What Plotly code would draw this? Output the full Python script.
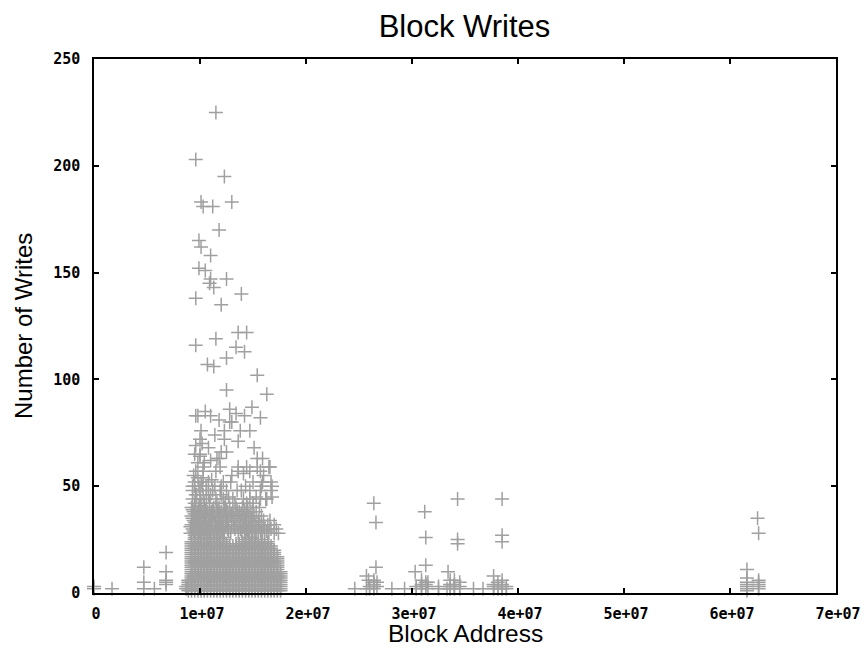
import plotly.graph_objects as go

# ---------------- data (block address in millions, number of writes) ----------------
# scattered points
sparse_addr_m = [
    11.5, 9.6, 12.3, 10.1, 10.3, 11.2, 13.0, 11.8, 9.9, 10.1, 11.0, 9.9, 10.5, 11.0, 12.5,
    10.9, 11.3, 13.9, 9.6, 12.0, 13.6, 14.4, 9.6, 11.5, 13.4, 14.2, 12.5, 10.7, 11.3, 15.4,
    12.5, 16.3, 14.9, 10.5, 12.8, 13.4, 9.6, 9.8, 11.0, 11.8, 12.8, 13.0, 14.2, 15.7, 10.1,
    11.4, 12.3, 13.8, 14.7, 10.0, 10.2, 12.3, 13.6, 9.6, 10.8, 12.0, 12.5, 15.1, 10.0, 11.6,
    11.8, 15.4, 15.9, 11.0, 10.3, 11.9, 13.6, 14.4, 15.4, 16.5, 16.6, 16.8, 16.8,
    9.8, 10.4, 9.5, 10.0,
]
sparse_writes = [
    225, 203, 195, 183, 181, 181, 183, 170, 165, 162, 158, 152, 151, 147, 147,
    145, 143, 140, 138, 135, 122, 122, 116, 119, 115, 113, 110, 107, 106, 102,
    95, 93, 87, 85, 86, 84, 83, 83, 83, 81, 80, 80, 83, 82, 76,
    74, 76, 76, 76, 72, 70, 72, 71, 69, 68, 66, 66, 68, 64, 63,
    63, 63, 63, 62, 59, 59, 59, 59, 59, 59, 59, 50, 45,
    61, 61, 65, 65,
]

# semi-dense band inside the main cluster
band_addr_m = [
    9.6, 10.3, 11.5, 13.6, 14.7, 15.7,
    9.5, 10.1, 10.8, 12.2, 12.9, 15.0, 15.9, 16.7,
    9.3, 10.0, 10.6, 11.2, 11.9, 12.5, 13.9, 14.7, 15.7, 16.7,
    9.3, 10.0, 10.6, 11.5, 12.2, 13.1, 14.1, 14.7, 15.7, 16.2,
    9.4, 9.8, 10.2, 9.6, 10.4, 9.9, 10.8, 9.5, 10.3, 11.1, 12.0, 12.7, 13.5, 14.3, 15.3,
    16.3, 15.8, 13.0, 14.1, 16.0,
    9.2, 9.6, 10.0, 10.4, 10.9, 11.3, 11.8, 12.3, 12.8, 13.4, 14.0, 14.5, 15.0, 15.6,
    9.4, 9.8, 10.2, 10.7, 11.1, 11.6, 12.0, 12.6, 13.1, 13.7, 14.2, 14.8, 15.3,
    9.2, 9.7, 10.1, 10.5, 11.0, 11.4, 11.9, 12.4, 12.9, 13.5, 14.0, 14.6, 15.1, 15.8,
    9.4, 9.9, 10.3, 10.8, 11.2, 11.7, 12.2, 12.7, 13.2, 13.8, 14.3, 14.9, 15.5, 16.0, 16.6,
    9.2, 9.6, 10.0, 10.5, 10.9, 11.4, 11.9, 12.4, 13.0, 13.5, 14.1, 14.6, 15.2, 15.8, 16.4, 17.0,
    9.3, 9.8, 10.2, 10.7, 11.1, 11.6, 12.1, 12.6, 13.3, 13.8, 14.4, 14.9, 15.5, 16.1, 16.7, 17.2,
    9.1, 9.5, 10.0, 10.4, 10.9, 11.3, 11.8, 12.3, 12.9, 13.6, 14.2, 14.7, 15.3, 15.9, 16.5, 17.0, 17.4,
    9.4, 9.9, 10.6, 11.4, 12.0, 12.7, 13.9, 14.5, 15.1, 15.7, 16.3,
    9.1, 9.7, 10.3, 11.0, 11.7, 12.2, 13.2, 14.0, 14.7, 15.3, 16.0,
    9.5, 10.1, 10.6, 11.5, 12.0, 12.5, 13.7, 14.4, 15.0, 15.6,
    9.3, 9.8, 10.4, 11.1, 11.8, 12.6, 13.3, 14.2, 14.8,
    9.5, 10.0, 10.6, 11.3, 12.2, 13.0, 13.9, 14.4,
    9.3, 9.9, 10.5, 11.2, 11.7, 12.5, 13.5, 14.2,
    9.5, 10.1, 10.9, 11.6, 12.4, 13.3, 14.4, 15.0,
    9.7, 10.3, 11.0, 12.0,
    9.3, 9.9, 10.6, 11.4,
]
band_writes = [
    57, 57, 57, 57, 57, 57,
    52, 52, 52, 52, 52, 52, 52, 52,
    48, 48, 48, 48, 48, 48, 48, 48, 48, 48,
    44, 44, 44, 44, 44, 44, 44, 44, 44, 44,
    55, 54, 50, 46, 42, 41, 46, 50, 54, 53, 50, 45, 48, 50, 45,
    44, 50, 55, 56, 55,
    40, 40, 40, 40, 40, 40, 40, 40, 40, 40, 40, 40, 40, 40,
    38, 38, 38, 38, 38, 38, 38, 38, 38, 38, 38, 38, 38,
    36, 36, 36, 36, 36, 36, 36, 36, 36, 36, 36, 36, 36, 36,
    34, 34, 34, 34, 34, 34, 34, 34, 34, 34, 34, 34, 34, 34, 34,
    32, 32, 32, 32, 32, 32, 32, 32, 32, 32, 32, 32, 32, 32, 32, 32,
    30, 30, 30, 30, 30, 30, 30, 30, 30, 30, 30, 30, 30, 30, 30, 30,
    28, 28, 28, 28, 28, 28, 28, 28, 28, 28, 28, 28, 28, 28, 28, 28, 28,
    29, 29, 29, 29, 29, 29, 29, 29, 29, 29, 29,
    31, 31, 31, 31, 31, 31, 31, 31, 31, 31, 31,
    33, 33, 33, 33, 33, 33, 33, 33, 33, 33,
    35, 35, 35, 35, 35, 35, 35, 35, 35,
    37, 37, 37, 37, 37, 37, 37, 37,
    39, 39, 39, 39, 39, 39, 39, 39,
    42, 42, 42, 42, 42, 42, 42, 42,
    46, 46, 46, 46,
    50, 50, 50, 50,
]

# solid part of the main cluster: every write count up to the column's top is present
dense_addr_m = [8.9, 9.2, 9.5, 9.8, 10.1, 10.4, 10.7, 11.0, 11.3, 11.6, 11.9, 12.2, 12.5, 12.8, 13.1,
                13.4, 13.7, 14.0, 14.3, 14.6, 14.9, 15.2, 15.5, 15.8, 16.1, 16.4, 16.7, 17.0, 17.3, 17.6]
dense_top = [6, 24, 28, 28, 28, 27, 27, 26, 27, 26, 25, 26, 23, 22, 22,
             23, 23, 24, 25, 26, 26, 25, 24, 25, 24, 24, 22, 20, 17, 10]
dense_levels = [1, 2, 3, 4, 5, 6, 7, 8, 9, 10, 11, 12, 13, 14, 15, 16, 17, 18, 19, 20,
                21, 22, 23, 24, 25, 26, 27, 28]

# isolated low groups
low_addr_m = [
    0.0, 0.0, 1.7, 4.7, 4.7, 4.7, 5.7, 6.8, 6.8, 6.8, 6.8, 6.8, 8.7, 8.7,
    24.6, 25.7, 25.7, 25.9, 26.4, 26.6, 26.6, 26.4, 26.4, 26.4, 26.4, 26.4, 26.7, 26.7, 26.0, 26.0, 28.1, 29.3,
    30.3, 30.4, 30.4, 30.9, 30.9, 30.9, 30.9, 31.2, 31.3, 31.3, 31.3, 31.3, 31.3, 31.5, 31.5, 32.5, 32.5,
    33.4, 33.3, 33.6, 33.6, 33.6, 33.6, 34.0, 34.0, 34.0, 34.0, 34.3, 34.3, 34.3, 34.5, 34.5, 34.5,
    35.8, 36.7,
    37.7, 37.7, 37.7, 37.7, 38.1, 38.1, 38.1, 38.5, 38.5, 38.5, 38.5, 38.5, 38.5, 38.5, 38.9, 38.9,
    61.6, 61.6, 61.6, 61.6, 61.6, 61.6, 61.6, 62.6, 62.7, 62.7, 62.7, 62.7, 62.7, 62.7,
]
low_writes = [
    3, 2, 2, 12, 5, 2, 2, 19, 10, 6, 5, 4, 2, 3,
    2, 2, 8, 6, 42, 33, 12, 6, 5, 4, 3, 2, 5, 3, 3, 2, 2, 2,
    10, 3, 2, 6, 4, 3, 2, 38, 26, 13, 5, 4, 3, 5, 2, 2, 3,
    10, 2, 6, 4, 3, 2, 6, 4, 3, 2, 44, 25, 23, 5, 3, 2,
    2, 2,
    8, 4, 3, 2, 5, 3, 2, 44, 27, 24, 6, 4, 3, 2, 3, 2,
    11, 7, 5, 4, 3, 2, 1, 35, 28, 6, 5, 4, 3, 2,
]

x_tickvals = [0, 1e7, 2e7, 3e7, 4e7, 5e7, 6e7, 7e7]
x_ticktext = ["0", "1e+07", "2e+07", "3e+07", "4e+07", "5e+07", "6e+07", "7e+07"]
y_tickvals = [0, 50, 100, 150, 200, 250]
y_ticktext = ["0", "50", "100", "150", "200", "250"]

# ---------------- assemble ----------------
xs, ys = [], []
for a, t in zip(dense_addr_m, dense_top):
    for lv in dense_levels:
        if lv <= t:
            xs.append(a * 1e6)
            ys.append(lv)
for arr_x, arr_y in ((band_addr_m, band_writes), (sparse_addr_m, sparse_writes), (low_addr_m, low_writes)):
    xs.extend(v * 1e6 for v in arr_x)
    ys.extend(arr_y)

GRAY = "#a0a0a0"
fig = go.Figure()
fig.add_trace(go.Scatter(
    x=xs, y=ys, mode="markers", cliponaxis=False, showlegend=False,
    marker=dict(symbol="cross-thin", size=10, color=GRAY,
                line=dict(color=GRAY, width=1.5)),
))

tickfont = dict(family="DejaVu Sans Mono", size=15, color="black", weight="bold")
axis_common = dict(showgrid=False, zeroline=False, showline=True, linecolor="black",
                   linewidth=1.5, mirror="ticks", ticks="inside", ticklen=5,
                   tickcolor="black", tickwidth=1.5, tickfont=tickfont, automargin=False)

fig.update_xaxes(range=[0, 7e7], tickmode="array", tickvals=x_tickvals, ticktext=x_ticktext,
                 ticklabelstandoff=6, ticklabelshift=2, **axis_common)
fig.update_yaxes(range=[0, 250], tickmode="array", tickvals=y_tickvals, ticktext=y_ticktext,
                 ticklabelstandoff=9, **axis_common)

fig.update_layout(
    width=865, height=648, autosize=False,
    margin=dict(l=94, r=29, t=59, b=55, pad=0, autoexpand=False),
    paper_bgcolor="white", plot_bgcolor="white",
    title=dict(text="Block Writes", x=464.5 / 865, xref="container", xanchor="center",
               y=1 - 26 / 648, yref="container", yanchor="middle",
               font=dict(family="Liberation Sans", size=31, color="black")),
    annotations=[
        dict(text="Block Address", xref="paper", yref="paper", x=0.5, y=-(633 - 593) / 534,
             xanchor="center", yanchor="middle", showarrow=False,
             font=dict(family="Liberation Sans", size=24.5, color="black")),
        dict(text="Number of Writes", xref="paper", yref="paper", x=-(94 - 23) / 742, y=0.5,
             xanchor="center", yanchor="middle", textangle=-90, showarrow=False,
             font=dict(family="Liberation Sans", size=24, color="black")),
    ],
)

div = fig.to_html(full_html=False, include_plotlyjs=True,
                  config={"displayModeBar": False, "responsive": False})
html = ("<!DOCTYPE html><html><head><meta charset='utf-8'>"
        "<style>html,body{margin:0;padding:0;overflow:hidden;background:white;}</style>"
        "</head><body>" + div + "</body></html>")
with open("out.html", "w", encoding="utf-8") as f:
    f.write(html)
